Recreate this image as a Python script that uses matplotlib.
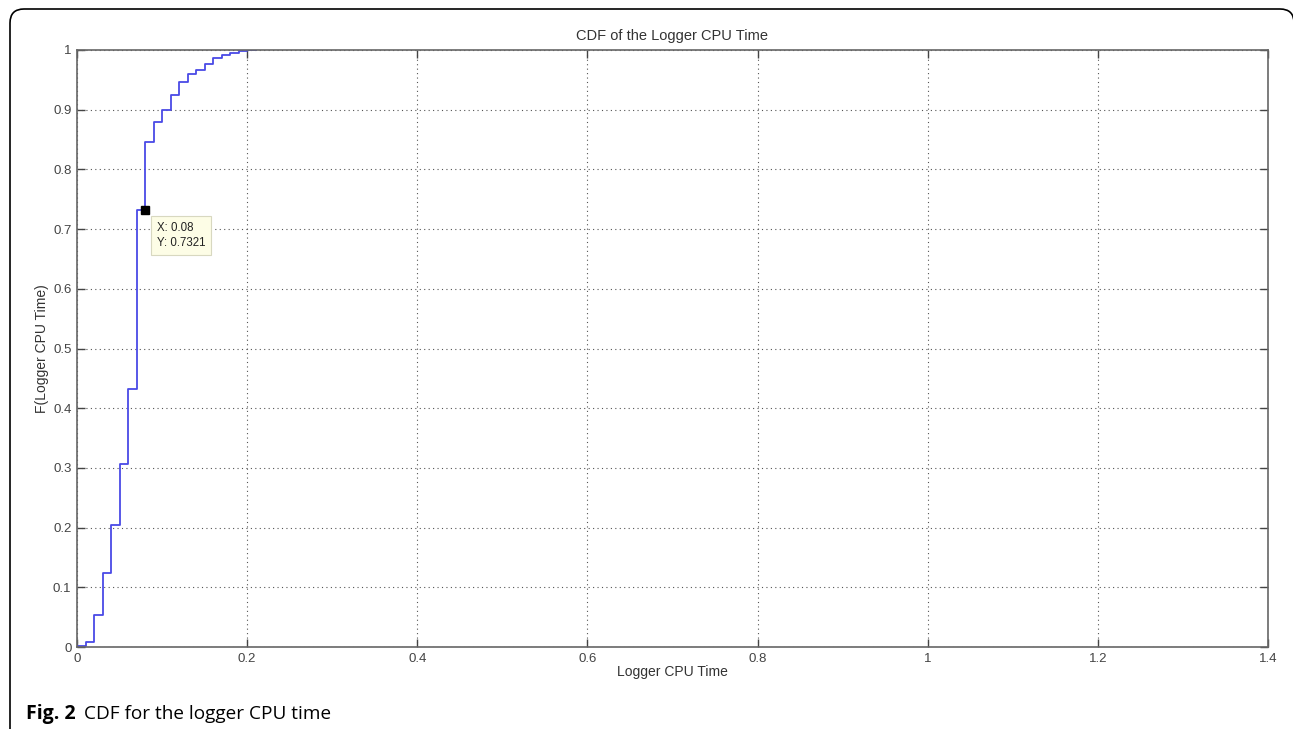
import matplotlib
matplotlib.use("Agg")
import matplotlib.pyplot as plt
from matplotlib.patches import FancyBboxPatch
from matplotlib.transforms import IdentityTransform
import numpy as np

# step positions (Logger CPU Time) and CDF level after each step
cpu_time = [0.00, 0.01, 0.02, 0.03, 0.04, 0.05, 0.06, 0.07, 0.08, 0.09, 0.10,
            0.11, 0.12, 0.13, 0.14, 0.15, 0.16, 0.17, 0.18, 0.19, 0.20, 0.21]
cdf_level = [0.002, 0.009, 0.054, 0.124, 0.205, 0.306, 0.432, 0.7321, 0.846,
             0.879, 0.900, 0.925, 0.946, 0.959, 0.966, 0.976, 0.986, 0.991,
             0.995, 0.998, 1.000, 1.000]
tip_x, tip_y = 0.08, 0.7321
x_ticks = [0, 0.2, 0.4, 0.6, 0.8, 1, 1.2, 1.4]
x_labels = ["0", "0.2", "0.4", "0.6", "0.8", "1", "1.2", "1.4"]
y_ticks = [0, 0.1, 0.2, 0.3, 0.4, 0.5, 0.6, 0.7, 0.8, 0.9, 1]
y_labels = ["0", "0.1", "0.2", "0.3", "0.4", "0.5", "0.6", "0.7", "0.8", "0.9", "1"]

plt.rcParams["font.family"] = ["Liberation Sans", "DejaVu Sans"]

fig = plt.figure(figsize=(12.93, 7.29), dpi=100)
ax = fig.add_axes([77 / 1293, 82 / 729, 1191 / 1293, 597 / 729])

ax.step(cpu_time, cdf_level, where="post", color="#4a4ae6", lw=1.3)
ax.plot([tip_x], [tip_y], "s", color="black", ms=6, zorder=5)
# data tip box
ax.annotate("X: 0.08\nY: 0.7321", xy=(tip_x, tip_y), xytext=(8.5, -8.5),
            textcoords="offset points", ha="left", va="top", fontsize=8.3,
            color="#222222", linespacing=1.35,
            bbox=dict(boxstyle="square,pad=0.5", fc="#fdfde6", ec="#d8d8c0", lw=0.8),
            zorder=6)

ax.set_xlim(0, 1.4)
ax.set_ylim(0, 1)
ax.set_xticks(x_ticks)
ax.set_xticklabels(x_labels)
ax.set_yticks(y_ticks)
ax.set_yticklabels(y_labels)
ax.tick_params(direction="in", length=6, width=1, colors="#444444",
               labelsize=9.5, top=True, right=True, pad=4)
ax.grid(True, color="#555555", linestyle=(0, (1, 3)), lw=0.8)
for s in ax.spines.values():
    s.set_color("#666666")
    s.set_linewidth(1.2)

ax.set_title("CDF of the Logger CPU Time", fontsize=10.5, color="#333333", pad=7)
ax.set_xlabel("Logger CPU Time", fontsize=10, color="#333333", labelpad=0)
ax.set_ylabel("F(Logger CPU Time)", fontsize=10, color="#333333", labelpad=3)

# rounded frame around the figure (bottom and right run off the page)
frame = FancyBboxPatch((10, -40), 1284, 760, boxstyle="round,pad=0,rounding_size=14",
                       transform=IdentityTransform(), fill=False, ec="black", lw=1.2)
fig.patches.append(frame)

fig.text(26 / 1293, 1 - 714 / 729, "Fig. 2", fontsize=14, fontweight="bold",
         family=["Open Sans", "DejaVu Sans"], va="center", ha="left")
fig.text(84 / 1293, 1 - 714 / 729, "CDF for the logger CPU time", fontsize=13.7,
         family=["Open Sans", "DejaVu Sans"], va="center", ha="left")

fig.savefig("out.png", dpi=100)
